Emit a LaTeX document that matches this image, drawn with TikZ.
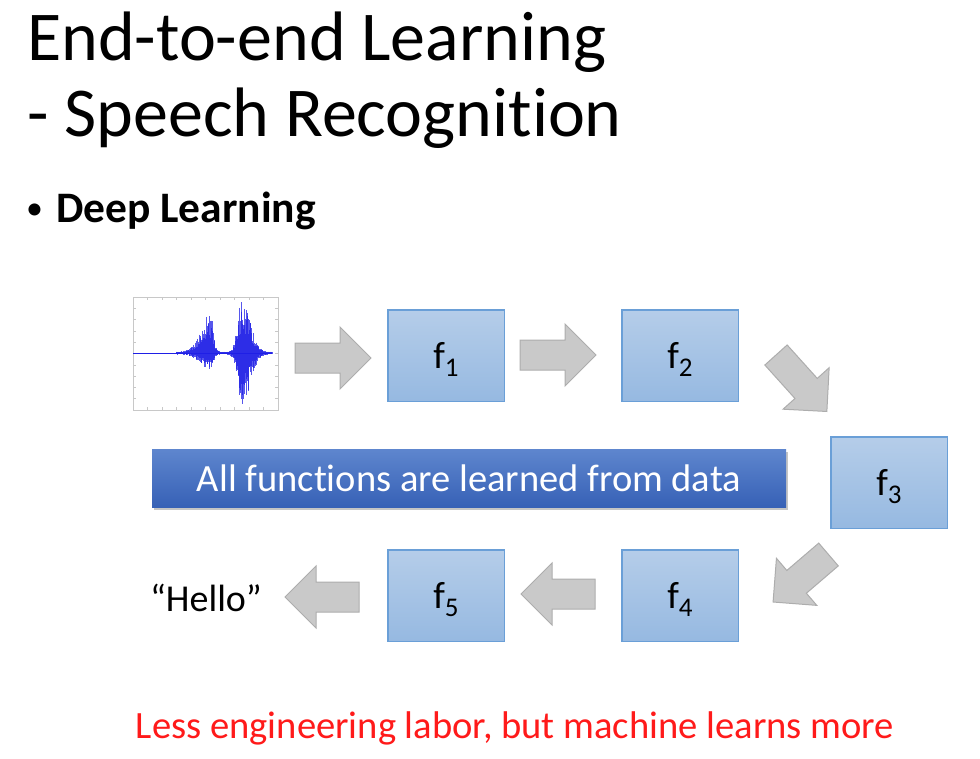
\documentclass[tikz,border=0pt]{standalone}
\usepackage{fontspec}
\setmainfont[Ligatures={NoCommon}]{Carlito}
\usetikzlibrary{shadows,calc}
\definecolor{boxtop}{HTML}{B5CDE9}
\definecolor{boxbot}{HTML}{96B9E1}
\definecolor{boxline}{HTML}{6A9FD7}
\definecolor{bantop}{HTML}{5E86CE}
\definecolor{banbot}{HTML}{3761B6}
\definecolor{arrfill}{HTML}{C9C9C9}
\definecolor{arrline}{HTML}{ADADAD}
\definecolor{wavecol}{HTML}{1F1FE6}
\definecolor{axiscol}{HTML}{C8C8C8}
\definecolor{redtxt}{HTML}{FF1A1A}
\newcommand{\barrow}[4]{%
  \begin{scope}[shift={(#1,#2)},rotate=#3]
    \draw[blockarrow] (0,-15) -- (#4-31,-15) -- (#4-31,-31) -- (#4,0)
      -- (#4-31,31) -- (#4-31,15) -- (0,15) -- cycle;
  \end{scope}}
\newcommand{\fsub}[1]{f\raisebox{-8pt}{\fontsize{27}{27}\selectfont #1}}
\begin{document}
\begin{tikzpicture}[x=1pt,y=-1pt,
  fbox/.style={rectangle, draw=boxline, line width=1.5pt, top color=boxtop,
    bottom color=boxbot, minimum width=116.5pt, minimum height=91.5pt,
    inner sep=0pt},
  flabel/.style={inner sep=0pt, font=\fontsize{38}{38}\selectfont},
  banner/.style={rectangle, top color=bantop, bottom color=banbot, text=white,
    minimum width=634pt, minimum height=58pt, inner sep=0pt,
    font=\fontsize{38.5}{38.5}\selectfont,
    drop shadow={shadow xshift=2pt, shadow yshift=-3pt, opacity=0.45}},
  blockarrow/.style={fill=arrfill, draw=arrline, line width=1pt, line join=miter},
  wavestroke/.style={draw=wavecol, line width=0.45pt, opacity=0.75},
  plottick/.style={draw=axiscol, line width=0.5pt}]
\useasboundingbox (0,0) rectangle (980,758);
\fill[white] (0,0) rectangle (980,758);

% title and bullet
\node[anchor=base west, inner sep=0pt, font=\fontsize{70}{70}\selectfont] (t1) at (27,60) {End-to-end Learning};
\node[anchor=base west, inner sep=0pt, font=\fontsize{70}{70}\selectfont] (t2) at (27,136) {- Speech Recognition};
\node[anchor=base west, inner sep=0pt, font=\fontsize{34}{34}\selectfont] (bul) at (26,219) {•};
\node[anchor=base west, inner sep=0pt, font=\bfseries\fontsize{43.5}{43.5}\selectfont] (dl) at (56,222) {Deep Learning};

% waveform plot
\node[draw=axiscol, line width=0.6pt, minimum width=145pt, minimum height=113pt, inner sep=0pt] (wave) at (205.5,353.5) {};
\foreach \k in {0,...,10} {
  \draw[plottick] (133,{297+\k*11.3}) -- (136,{297+\k*11.3});
  \draw[plottick] (278,{297+\k*11.3}) -- (275,{297+\k*11.3});
  \draw[plottick] ({133+\k*14.5},410) -- ({133+\k*14.5},407);
  \draw[plottick] ({133+\k*14.5},297) -- ({133+\k*14.5},300);
}
\draw[draw=wavecol, line width=0.8pt] (133,353) -- (272,353);
\pgfmathsetseed{7}
\foreach \x in {176,176.5,...,272} {
  \pgfmathsetmacro\gA{\x<210 ? exp(-((\x-210)/13)^2) : exp(-((\x-210)/4.5)^2)}
  \pgfmathsetmacro\gB{\x<242 ? exp(-((\x-242)/6)^2) : exp(-((\x-242)/11)^2)}
  \pgfmathsetmacro\up{40*\gA+53*\gB+1.5}
  \pgfmathsetmacro\dn{16*\gA+52*\gB+1.5}
  \pgfmathsetmacro\ra{0.35+0.65*rnd}
  \pgfmathsetmacro\rb{0.35+0.65*rnd}
  \draw[wavestroke] (\x,{353-\up*\ra}) -- (\x,{353+\dn*\rb});
}

% function boxes
\node[fbox] (f1) at (446,355.5) {};
\node[fbox] (f2) at (680,355.5) {};
\node[fbox] (f3) at (889,482.5) {};
\node[fbox] (f4) at (680,595.5) {};
\node[fbox] (f5) at (446,595.5) {};
\foreach \n/\d in {f1/1,f2/2,f3/3,f4/4,f5/5}
  \node[flabel] (\n-lab) at ([yshift=-4pt]\n.center) {\fsub{\d}};

% banner
\node[banner] (ban) at (469,478) {All functions are learned from data};

% output and bottom text
\node[anchor=base, inner sep=0pt, font=\fontsize{38}{38}\selectfont] (hello) at (206,611) {“Hello”};
\node[anchor=base, inner sep=0pt, text=redtxt, font=\fontsize{38.6}{38.6}\selectfont] (note) at (515,738) {Less engineering labor, but machine learns more};

% block arrows
\barrow{295}{358}{0}{76}
\barrow{520}{355}{0}{76}
\barrow{776}{355}{-48}{76}
\barrow{828.5}{554.5}{-139.4}{73}
\barrow{595}{594}{180}{74}
\barrow{359}{597}{180}{74}
\end{tikzpicture}
\end{document}
